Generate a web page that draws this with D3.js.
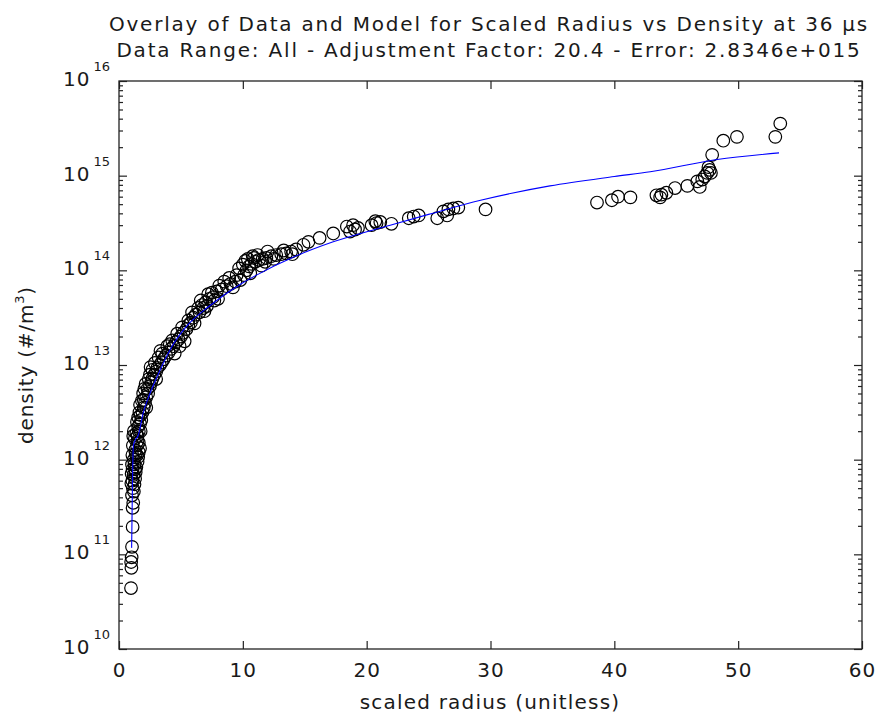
<!DOCTYPE html>
<html>
<head>
<meta charset="utf-8">
<script src="https://cdn.jsdelivr.net/npm/d3@7"></script>
<style>
  body { margin: 0; background: #fff; }
  text { font-family: "DejaVu Sans", sans-serif; fill: #1a1a1a; }
</style>
</head>
<body>
<div id="chart"></div>
<script>
// measured data (scaled radius, density)
var radius = [0.97,1.0,0.98,1.02,1.05,1.1,1.1,1.15,1.05,1.2,1.12,1.25,1.08,1.3,1.18,1.35,1.1,1.4,1.25,1.5,1.2,1.55,1.35,1.6,1.3,1.7,1.45,1.5,
  1.5,1.6,1.55,1.7,1.8,1.75,1.9,2.0,2.1,2.0,2.2,2.35,2.3,2.5,2.6,2.7,2.85,3.0,3.1,3.3,3.45,3.6,3.8,4.0,4.2,4.4,4.6,4.8,5.0,5.2,5.45,5.6,5.8,6.0,6.2,6.5,6.4,6.7,7.0,7.3,7.6,7.5,7.9,8.3,8.7,9.0,9.4,9.8,10.1,10.3,10.5,10.7,11.0,11.3,11.6,11.9,12.3,12.7,13.1,13.5,13.9,14.3,14.9,15.3,
  2.7,3.5,4.5,5.3,6.9,8.0,9.5,10.2,10.8,11.5,12.0,4.1,3.0,2.2,7.2,8.5,
  1.0,1.02,1.05,1.08,1.12,1.15,1.2,1.28,1.4,1.45,1.55,1.65,1.7,1.85,1.95,2.05,2.15,2.4,2.5,2.55,2.9,3.2,3.35,3.9,4.3,4.7,4.9,5.1,5.6,5.9,6.1,6.6,6.8,7.1,7.7,8.1,8.9,9.2,9.7,10.0,10.4,10.6,10.9,11.2,11.8,12.5,13.3,14.0,1.3,1.45,1.6,1.75,
  16.2,17.3,18.4,18.66,19.06,19.3,18.9,20.4,20.8,21.1,20.7,22.0,23.4,23.8,24.2,25.7,26.2,26.6,27.0,27.4,26.5,29.6,
  38.6,39.8,40.3,41.3,43.4,43.8,44.2,44.9,45.9,43.7,46.7,46.9,47.1,47.3,47.5,47.7,47.8,47.6,47.9,48.8,49.9,53.4,53.0];
var density = [4.4e10,7.2e10,8.3e10,9.3e10,1.2e11,1.95e11,3.1e11,3.5e11,4.2e11,4.6e11,5.0e11,5.5e11,6.0e11,6.3e11,6.9e11,7.4e11,7.9e11,8.3e11,8.9e11,9.5e11,1.0e12,1.07e12,1.15e12,1.2e12,1.26e12,1.32e12,1.41e12,1.58e12,
  1.78e12,2.0e12,2.24e12,2.4e12,2.63e12,2.95e12,3.16e12,3.55e12,3.98e12,4.27e12,4.57e12,5.0e12,5.6e12,6.0e12,6.6e12,7.2e12,7.9e12,8.5e12,9.3e12,1.0e13,1.07e13,1.15e13,1.26e13,1.35e13,1.48e13,1.58e13,1.74e13,1.86e13,2.0e13,2.19e13,2.4e13,2.63e13,2.8e13,3.16e13,3.4e13,3.6e13,4.0e13,4.3e13,4.6e13,5.0e13,5.2e13,5.8e13,6.0e13,6.3e13,6.8e13,7.2e13,7.6e13,7.9e13,8.9e13,1.0e14,1.1e14,1.17e14,1.23e14,1.29e14,1.32e14,1.35e14,1.41e14,1.45e14,1.48e14,1.51e14,1.58e14,1.66e14,1.86e14,2.0e14,
  8.9e12,1.32e13,1.32e13,1.78e13,3.7e13,5.0e13,8.9e13,1.26e14,1.41e14,1.12e14,1.58e14,1.66e13,7.1e12,3.55e12,5.6e13,7.6e13,
  5.6e11,7.1e11,8.9e11,1.12e12,1.41e12,1.78e12,2.0e12,1.66e12,1.9e12,2.5e12,2.8e12,3.16e12,3.8e12,4.2e12,5.0e12,5.6e12,6.3e12,7.1e12,7.9e12,9.5e12,1.05e13,1.2e13,1.41e13,1.58e13,1.82e13,2.14e13,1.58e13,2.5e13,2.95e13,3.6e13,2.75e13,4.8e13,4.0e13,4.2e13,4.8e13,6.9e13,8.3e13,6.6e13,1.05e14,1.15e14,1.32e14,9.3e13,1.35e14,1.45e14,1.23e14,1.32e14,1.62e14,1.48e14,7.9e11,1.12e12,1.51e12,2.0e12,
  2.2e14,2.45e14,2.9e14,2.57e14,2.7e14,2.8e14,3.0e14,3.0e14,3.16e14,3.24e14,3.3e14,3.1e14,3.55e14,3.7e14,3.8e14,3.55e14,4.2e14,4.4e14,4.5e14,4.6e14,3.8e14,4.4e14,
  5.2e14,5.5e14,6.0e14,5.9e14,6.2e14,6.3e14,6.6e14,7.4e14,7.8e14,5.9e14,8.7e14,7.6e14,9.1e14,9.8e14,1.07e15,1.15e15,1.07e15,1.23e15,1.66e15,2.34e15,2.57e15,3.55e15,2.57e15];

// model curve
var modelRadius = [1.02,1.06,1.10,1.16,1.3,1.55,1.95,2.5,3.05,4.25,5.5,7.2,10,11.1,14.1,17.3,21.9,25,29.2,34.8,40,42.9,48.3,53.3];
var modelDensity = [1.17e11,3e11,7e11,1.4e12,1.6e12,1.8e12,3.1e12,5e12,7.4e12,1.55e13,2.6e13,4.1e13,7.4e13,8.9e13,1.38e14,2.0e14,3.0e14,3.9e14,5.5e14,7.8e14,9.8e14,1.1e15,1.48e15,1.74e15];

var xTicks = [0,10,20,30,40,50,60];
var yExponents = [10,11,12,13,14,15,16];

var titleLines = ["Overlay of Data and Model for Scaled Radius vs Density at 36 \u00b5s",
                  "Data Range: All - Adjustment Factor: 20.4 - Error: 2.8346e+015"];

(function(){
var W = 878, H = 717;
var mLeft = 119, mRight = 862, mTop = 81, mBottom = 649;

var svg = d3.select("#chart").append("svg")
    .attr("width", W)
    .attr("height", H);

var x = d3.scaleLinear().domain([0,60]).range([mLeft,mRight]);
var y = d3.scaleLog().domain([1e10,1e16]).range([mBottom,mTop]);

var majors = yExponents.map(function(e){ return Math.pow(10,e); });
var minors = [];
yExponents.slice(0,-1).forEach(function(e){
  for (var k=2;k<10;k++) minors.push(k*Math.pow(10,e));
});

// data first, axes drawn on top
var plot = svg.append("g");

var line = d3.line()
   .curve(d3.curveMonotoneX)
   .x(function(d){ return x(d[0]); })
   .y(function(d){ return y(d[1]); });
var model = modelRadius.map(function(r,i){ return [r, modelDensity[i]]; });

plot.selectAll("circle")
   .data(radius.map(function(r,i){ return [r, density[i]]; }))
   .enter().append("circle")
   .attr("cx", function(d){ return x(d[0]); })
   .attr("cy", function(d){ return y(d[1]); })
   .attr("r", 6.3)
   .attr("fill", "none")
   .attr("stroke", "#000")
   .attr("stroke-width", 1.2);

plot.append("path")
   .datum(model)
   .attr("d", line)
   .attr("fill", "none")
   .attr("stroke", "#0000ff")
   .attr("stroke-width", 1.1);

// x axes (bottom with labels, top ticks only)
var gx = svg.append("g")
   .attr("transform", "translate(0," + mBottom + ")")
   .call(d3.axisBottom(x).tickValues(xTicks).tickSize(-8).tickPadding(14).tickFormat(d3.format("d")));
svg.append("g")
   .attr("transform", "translate(0," + mTop + ")")
   .call(d3.axisTop(x).tickValues(xTicks).tickSize(-8).tickFormat(""));

// y axes
var gy = svg.append("g")
   .attr("transform", "translate(" + mLeft + ",0)")
   .call(d3.axisLeft(y).tickValues(majors).tickSize(-8).tickPadding(31).tickFormat(""));
svg.append("g")
   .attr("transform", "translate(" + mLeft + ",0)")
   .call(d3.axisLeft(y).tickValues(minors).tickSize(-4).tickFormat(""));
svg.append("g")
   .attr("transform", "translate(" + mRight + ",0)")
   .call(d3.axisRight(y).tickValues(majors).tickSize(-8).tickFormat(""));
svg.append("g")
   .attr("transform", "translate(" + mRight + ",0)")
   .call(d3.axisRight(y).tickValues(minors).tickSize(-4).tickFormat(""));

svg.selectAll(".domain").remove();
svg.selectAll(".tick line").attr("stroke", "#222").attr("stroke-width", 1.2);

gx.selectAll("text").attr("font-size", "20px").attr("fill", "#1a1a1a")
   .attr("letter-spacing", "1px")
   .style("font-family", "DejaVu Sans");

// y tick labels as 10^n
gy.selectAll(".tick").each(function(d){
  var t = d3.select(this).select("text");
  t.text("").attr("x", -56).attr("dy", "0.22em")
   .attr("text-anchor", "start").attr("font-size", "20px")
   .attr("fill", "#1a1a1a")
   .style("font-family", "DejaVu Sans");
  t.append("tspan").text("10").attr("letter-spacing", "1px");
  t.append("tspan").attr("font-size", "13px").attr("dx", 3).attr("dy", -15)
   .text(Math.round(Math.log10(d)));
});

// frame
svg.append("rect")
   .attr("x", mLeft).attr("y", mTop)
   .attr("width", mRight-mLeft).attr("height", mBottom-mTop)
   .attr("fill", "none").attr("stroke", "#222").attr("stroke-width", 1.3);

// titles
svg.selectAll(".title")
   .data(titleLines)
   .enter().append("text")
   .attr("class", "title")
   .attr("x", 489)
   .attr("y", function(d,i){ return 31 + i*26; })
   .attr("text-anchor", "middle")
   .attr("font-size", "20px")
   .attr("letter-spacing", "1.8px")
   .text(function(d){ return d; });

svg.append("text")
   .attr("x", 490).attr("y", 709)
   .attr("text-anchor", "middle")
   .attr("font-size", "20px")
   .attr("letter-spacing", "1.2px")
   .text("scaled radius (unitless)");

var yl = svg.append("text")
   .attr("transform", "translate(33," + ((mTop+mBottom)/2) + ") rotate(-90)")
   .attr("text-anchor", "middle")
   .attr("font-size", "20px")
   .attr("letter-spacing", "0.8px");
yl.append("tspan").text("density (#/m");
yl.append("tspan").attr("font-size", "13px").attr("dy", -9).text("3");
yl.append("tspan").attr("dy", 9).text(")");
})();
</script>
</body>
</html>
